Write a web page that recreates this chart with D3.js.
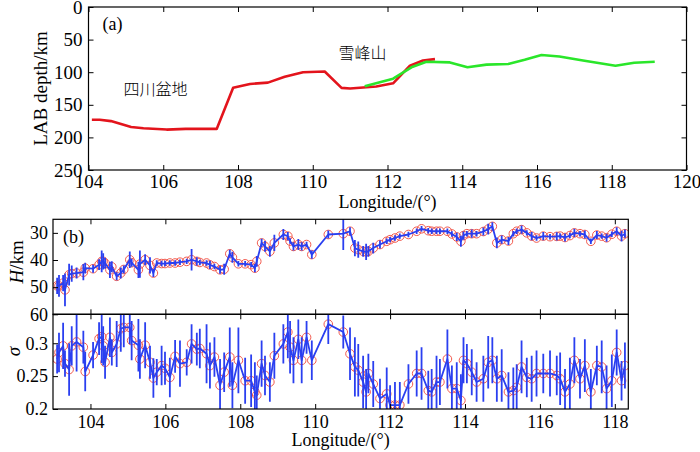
<!DOCTYPE html>
<html>
<head>
<meta charset="utf-8">
<script src="https://cdn.jsdelivr.net/npm/d3@7"></script>
<style>
  body { margin: 0; background: #fff; }
  svg { display: block; }
  text { font-family: "Liberation Serif", "Times New Roman", serif; fill: #000; }
  .cjk { font-family: "Noto Sans CJK SC", sans-serif; }
</style>
</head>
<body>
<svg id="chart" width="700" height="452"></svg>
<script>
// panel (a): LAB depth profiles
var redLon = [104.09, 104.3, 104.6, 105.14, 105.47, 106.09, 106.6, 107.43, 107.87, 108.32, 108.8,
  109.25, 109.74, 110.32, 110.77, 111.0, 111.7, 112.15, 112.6, 112.95, 113.27]
var redDepth = [173, 173, 175, 184, 186, 188, 187, 187, 124, 118, 116,
  107, 100, 99, 124, 125, 122, 117, 90, 82, 80]

var greenLon = [111.39, 112.15, 112.64, 113.04, 113.67, 114.14, 114.65, 115.23, 115.67, 116.12,
  116.6, 117.23, 118.1, 118.6, 119.15]
var greenDepth = [121.5, 110, 92.5, 84, 85, 92.5, 88.4, 87.4, 81, 73.7,
  76, 82, 90, 85.4, 84]

var aTicksX = [104, 106, 108, 110, 112, 114, 116, 118, 120]
var aTicksY = [0, 50, 100, 150, 200, 250]

// panel (b): station results
var stationLon = [
  103.11, 103.16, 103.27, 103.32, 103.43, 103.50, 103.63, 103.81, 103.86, 104.07,
  104.23, 104.30, 104.34, 104.39, 104.52, 104.57, 104.70, 104.81, 104.89, 105.05,
  105.10, 105.28, 105.32, 105.46, 105.59, 105.68, 105.77, 105.90, 105.99, 106.12,
  106.26, 106.39, 106.57, 106.70, 106.84, 106.92, 107.10, 107.19, 107.31, 107.46,
  107.57, 107.72, 107.79, 107.95, 108.13, 108.29, 108.39, 108.44, 108.57, 108.66,
  108.79, 108.91, 109.15, 109.27, 109.33, 109.42, 109.55, 109.64, 109.77, 109.91,
  110.35, 110.75, 110.93, 111.06, 111.15, 111.28, 111.36, 111.42, 111.55, 111.73,
  111.91, 112.00, 112.13, 112.26, 112.49, 112.71, 112.84, 113.02, 113.11, 113.24,
  113.33, 113.53, 113.65, 113.78, 113.89, 113.96, 114.05, 114.18, 114.31, 114.49,
  114.62, 114.73, 114.85, 114.98, 115.16, 115.29, 115.38, 115.51, 115.65, 115.78,
  115.91, 116.09, 116.27, 116.45, 116.54, 116.67, 116.80, 116.92, 117.07, 117.20,
  117.36, 117.52, 117.65, 117.78, 117.92, 118.05, 118.18, 118.27]

var hKm = [
  49.5, 49.5, 48.5, 51, 45.4, 45, 44.8, 44.5, 43, 43.2,
  41.7, 40.5, 40.5, 41.2, 43.6, 42.5, 46, 44.8, 43.5, 39.9,
  41, 43.6, 41.5, 39.9, 42, 44.8, 41.1, 41.3, 41.3, 41.1,
  41.1, 40.8, 40.5, 39.9, 40.5, 40.9, 41.1, 41.8, 42.4, 43.6,
  43.4, 37.7, 39, 41.4, 41.4, 41.7, 43, 40.5, 33.7, 35,
  36.8, 33.7, 30.6, 31.2, 33, 35, 34.3, 35, 34.3, 38,
  30.6, 30.3, 29.4, 35.6, 36.2, 36.8, 37, 36.8, 35.6, 34.3,
  33.1, 32.5, 31.9, 31.2, 30.6, 29.4, 28.5, 29.2, 29.4, 29.4,
  29.4, 29.4, 30.4, 31.5, 33.1, 31, 30.3, 30.3, 30.3, 29.5,
  28.6, 27.6, 33.7, 32.5, 33, 30.3, 29.4, 28.8, 30, 31.2,
  31.9, 31.2, 31.4, 31.3, 31.2, 31.7, 31, 30, 30.3, 30.6,
  33.1, 30.8, 31.2, 31.8, 30.5, 29.4, 31.2, 30.3]

var hErr = [
  3, 4, 3, 6, 4, 3, 2, 3, 2, 1.5,
  2, 4, 3, 2, 3, 2, 1.5, 2, 1.5, 3,
  1.5, 3, 5, 2, 3, 1.5, 1, 1, 1, 1,
  1, 1, 1, 4, 1.5, 1, 1, 1.5, 1, 1.5,
  2, 1.5, 2, 1, 1, 1, 1.5, 2, 1.5, 2,
  2, 3, 2, 1.5, 1, 1.5, 2, 1.5, 1, 1.5,
  1.5, 6, 1.5, 3, 3, 2, 3, 2, 2, 1.5,
  1, 1, 1, 1, 1, 1, 1, 1, 1, 1,
  1, 1, 1, 1.5, 2, 1.5, 1, 1.5, 1, 1.5,
  2, 1.5, 2, 1.5, 1.5, 1, 1, 1.5, 1, 1.5,
  1, 1.5, 1, 1.5, 1, 1.5, 1, 1.5, 1, 1.5,
  1, 1.5, 1, 1.5, 1, 1.5, 2, 1.5]

var sigma = [
  0.276, 0.286, 0.296, 0.269, 0.26, 0.296, 0.302, 0.294, 0.257, 0.282,
  0.307, 0.31, 0.296, 0.271, 0.309, 0.286, 0.299, 0.322, 0.324, 0.324,
  0.304, 0.297, 0.276, 0.297, 0.271, 0.247, 0.256, 0.266, 0.262, 0.248,
  0.28, 0.269, 0.271, 0.299, 0.291, 0.292, 0.284, 0.266, 0.279, 0.236,
  0.256, 0.279, 0.236, 0.274, 0.243, 0.243, 0.226, 0.221, 0.269, 0.251,
  0.241, 0.281, 0.299, 0.317, 0.294, 0.274, 0.306, 0.274, 0.309, 0.274,
  0.329, 0.317, 0.284, 0.264, 0.259, 0.241, 0.226, 0.254, 0.238, 0.216,
  0.223, 0.206, 0.206, 0.206, 0.238, 0.254, 0.254, 0.228, 0.226, 0.241,
  0.241, 0.276, 0.231, 0.231, 0.213, 0.274, 0.269, 0.256, 0.241, 0.246,
  0.271, 0.274, 0.246, 0.251, 0.226, 0.228, 0.233, 0.264, 0.248, 0.246,
  0.254, 0.254, 0.254, 0.251, 0.246, 0.226, 0.238, 0.274, 0.246, 0.266,
  0.226, 0.266, 0.264, 0.231, 0.243, 0.286, 0.243, 0.266]

var sigmaErr = [
  0.022, 0.03, 0.035, 0.02, 0.04, 0.03, 0.045, 0.025, 0.03, 0.02,
  0.025, 0.04, 0.03, 0.025, 0.03, 0.02, 0.035, 0.035, 0.03, 0.025,
  0.03, 0.04, 0.03, 0.035, 0.025, 0.03, 0.02, 0.03, 0.025, 0.03,
  0.025, 0.035, 0.02, 0.03, 0.025, 0.03, 0.045, 0.035, 0.03, 0.04,
  0.03, 0.045, 0.035, 0.05, 0.035, 0.04, 0.045, 0.03, 0.035, 0.03,
  0.03, 0.035, 0.03, 0.04, 0.04, 0.035, 0.03, 0.035, 0.025, 0.03,
  0.03, 0.025, 0.04, 0.045, 0.04, 0.04, 0.035, 0.03, 0.035, 0.03,
  0.04, 0.03, 0.035, 0.035, 0.03, 0.035, 0.04, 0.03, 0.035, 0.04,
  0.035, 0.045, 0.035, 0.04, 0.04, 0.035, 0.03, 0.035, 0.03, 0.035,
  0.04, 0.035, 0.035, 0.04, 0.03, 0.035, 0.035, 0.04, 0.03, 0.035,
  0.035, 0.03, 0.035, 0.03, 0.04, 0.035, 0.04, 0.035, 0.03, 0.04,
  0.035, 0.03, 0.04, 0.035, 0.04, 0.035, 0.03, 0.035]

var bTicksX = [104, 106, 108, 110, 112, 114, 116, 118]
var hTicks = [30, 40, 50, 60]
var sigmaTicks = [0.2, 0.25, 0.3]

var svg = d3.select("#chart")
var tickLen = 5
var blue = "#2a3ff0"
var circleRed = "#f25a4e"

function zip(xs, ys) {
  var out = []
  for (var i = 0; i < xs.length; i++) out.push([xs[i], ys[i]])
  return out
}

// inward ticks on every side, plus a frame
function frameAxes(g, x, y, w, h, opts) {
  var fs = opts.fontSize
  var bottom = d3.axisBottom(x).tickValues(opts.xTicks).tickSizeInner(-tickLen).tickSizeOuter(0)
    .tickPadding(opts.xPad)
  if (!opts.xLabels) bottom.tickFormat("")
  g.append("g").attr("transform", "translate(0," + h + ")").call(bottom)
    .call(function(s) { s.selectAll("text").style("font-size", fs + "px") })

  if (opts.topTicks) {
    g.append("g").call(d3.axisTop(x).tickValues(opts.xTicks).tickSizeInner(-tickLen)
      .tickSizeOuter(0).tickFormat(""))
  }
  if (opts.yTicks) {
    var left = d3.axisLeft(y).tickValues(opts.yTicks).tickSizeInner(-tickLen).tickSizeOuter(0)
      .tickPadding(opts.yPad)
    if (opts.yFormat) left.tickFormat(opts.yFormat)
    g.append("g").call(left)
      .call(function(s) { s.selectAll("text").style("font-size", fs + "px") })
  }
  if (opts.rightTicks) {
    g.append("g").attr("transform", "translate(" + w + ",0)")
      .call(d3.axisRight(y).tickValues(opts.yTicks).tickSizeInner(-tickLen)
        .tickSizeOuter(0).tickFormat(""))
  }
  g.selectAll(".domain").remove()
  g.selectAll(".tick line").attr("stroke", "#000").attr("stroke-width", 1)
  g.append("rect").attr("width", w).attr("height", h)
    .attr("fill", "none").attr("stroke", "#000").attr("stroke-width", 1.2)
}

// ---------- panel (a)
var aLeft = 88.5, aTop = 7, aW = 598, aH = 163
var xA = d3.scaleLinear().domain([104, 120]).range([0, aW])
var yA = d3.scaleLinear().domain([0, 250]).range([0, aH])
var gA = svg.append("g").attr("transform", "translate(" + aLeft + "," + aTop + ")")

var lineA = d3.line().x(function(d) { return xA(d[0]) }).y(function(d) { return yA(d[1]) })
gA.append("path").datum(zip(redLon, redDepth)).attr("d", lineA)
  .attr("fill", "none").attr("stroke", "#e3141c").attr("stroke-width", 2.6)
  .attr("stroke-linejoin", "round")
gA.append("path").datum(zip(greenLon, greenDepth)).attr("d", lineA)
  .attr("fill", "none").attr("stroke", "#2ae62a").attr("stroke-width", 2.6)
  .attr("stroke-linejoin", "round")

frameAxes(gA, xA, yA, aW, aH, {
  fontSize: 19, xTicks: aTicksX, yTicks: aTicksY, xLabels: true,
  topTicks: true, rightTicks: true, xPad: 5, yPad: 6
})

gA.append("text").attr("x", 14).attr("y", 23).style("font-size", "18px").text("(a)")
gA.append("text").attr("class", "cjk").attr("x", 35).attr("y", 88)
  .style("font-size", "16px").style("font-weight", 300).text("四川盆地")
gA.append("text").attr("class", "cjk").attr("x", 250).attr("y", 52)
  .style("font-size", "16px").style("font-weight", 300).text("雪峰山")

svg.append("text").attr("x", aLeft + aW / 2).attr("y", 208).attr("text-anchor", "middle")
  .style("font-size", "18px").text("Longitude/(°)")
svg.append("text").attr("transform", "translate(40," + (aTop + aH / 2) + ") rotate(-90)")
  .attr("text-anchor", "middle").attr("dominant-baseline", "central")
  .style("font-size", "19px").text("LAB depth/km")

// ---------- panel (b)
var bLeft = 53, bTop = 219.3, bW = 575.3, hH = 95, sH = 94.7
var xB = d3.scaleLinear().domain([103, 118.36]).range([0, bW])
var yH = d3.scaleLinear().domain([25, 60]).range([0, hH])
var yS = d3.scaleLinear().domain([0.2, 0.344]).range([sH, 0])

var defs = svg.append("defs")
defs.append("clipPath").attr("id", "clipH").append("rect").attr("width", bW).attr("height", hH)
defs.append("clipPath").attr("id", "clipS").append("rect").attr("width", bW).attr("height", sH)

var stations = stationLon.map(function(lon, i) {
  return { lon: lon, h: hKm[i], he: hErr[i], s: sigma[i], se: sigmaErr[i] }
})

function drawSeries(g, y, val, err, clipId) {
  var plot = g.append("g").attr("clip-path", "url(#" + clipId + ")")
  plot.selectAll(".circ").data(stations).enter().append("circle")
    .attr("cx", function(d) { return xB(d.lon) })
    .attr("cy", function(d) { return y(d[val]) })
    .attr("r", 4.3)
    .attr("fill", "none").attr("stroke", circleRed).attr("stroke-width", 1)
  plot.selectAll(".err").data(stations).enter().append("line")
    .attr("x1", function(d) { return xB(d.lon) })
    .attr("x2", function(d) { return xB(d.lon) })
    .attr("y1", function(d) { return y(d[val] - d[err]) })
    .attr("y2", function(d) { return y(d[val] + d[err]) })
    .attr("stroke", blue).attr("stroke-width", 1.8)
  var line = d3.line().x(function(d) { return xB(d.lon) }).y(function(d) { return y(d[val]) })
  plot.append("path").datum(stations).attr("d", line)
    .attr("fill", "none").attr("stroke", blue).attr("stroke-width", 1.8)
    .attr("stroke-linejoin", "round")
}

var gH = svg.append("g").attr("transform", "translate(" + bLeft + "," + bTop + ")")
drawSeries(gH, yH, "h", "he", "clipH")
frameAxes(gH, xB, yH, bW, hH, {
  fontSize: 18, xTicks: bTicksX, yTicks: hTicks, xLabels: false,
  topTicks: true, rightTicks: false, xPad: 5, yPad: 5
})
gH.append("text").attr("x", 10).attr("y", 24).style("font-size", "18px").text("(b)")

var gS = svg.append("g").attr("transform", "translate(" + bLeft + "," + (bTop + hH) + ")")
drawSeries(gS, yS, "s", "se", "clipS")
frameAxes(gS, xB, yS, bW, sH, {
  fontSize: 18, xTicks: bTicksX, yTicks: sigmaTicks, xLabels: true,
  topTicks: true, rightTicks: false, xPad: 6, yPad: 5, yFormat: d3.format("")
})

svg.append("text").attr("x", bLeft + bW / 2).attr("y", 446).attr("text-anchor", "middle")
  .style("font-size", "18px").text("Longitude/(°)")

var hLab = svg.append("text").attr("transform", "translate(16," + (bTop + hH / 2 - 5) + ") rotate(-90)")
  .attr("text-anchor", "middle").attr("dominant-baseline", "central").style("font-size", "19px")
hLab.append("tspan").style("font-style", "italic").text("H")
hLab.append("tspan").text("/km")

svg.append("text").attr("transform", "translate(13," + (bTop + hH + sH / 2 - 10) + ") rotate(-90)")
  .attr("text-anchor", "middle").attr("dominant-baseline", "central")
  .style("font-size", "19px").style("font-style", "italic").text("σ")
</script>
</body>
</html>
